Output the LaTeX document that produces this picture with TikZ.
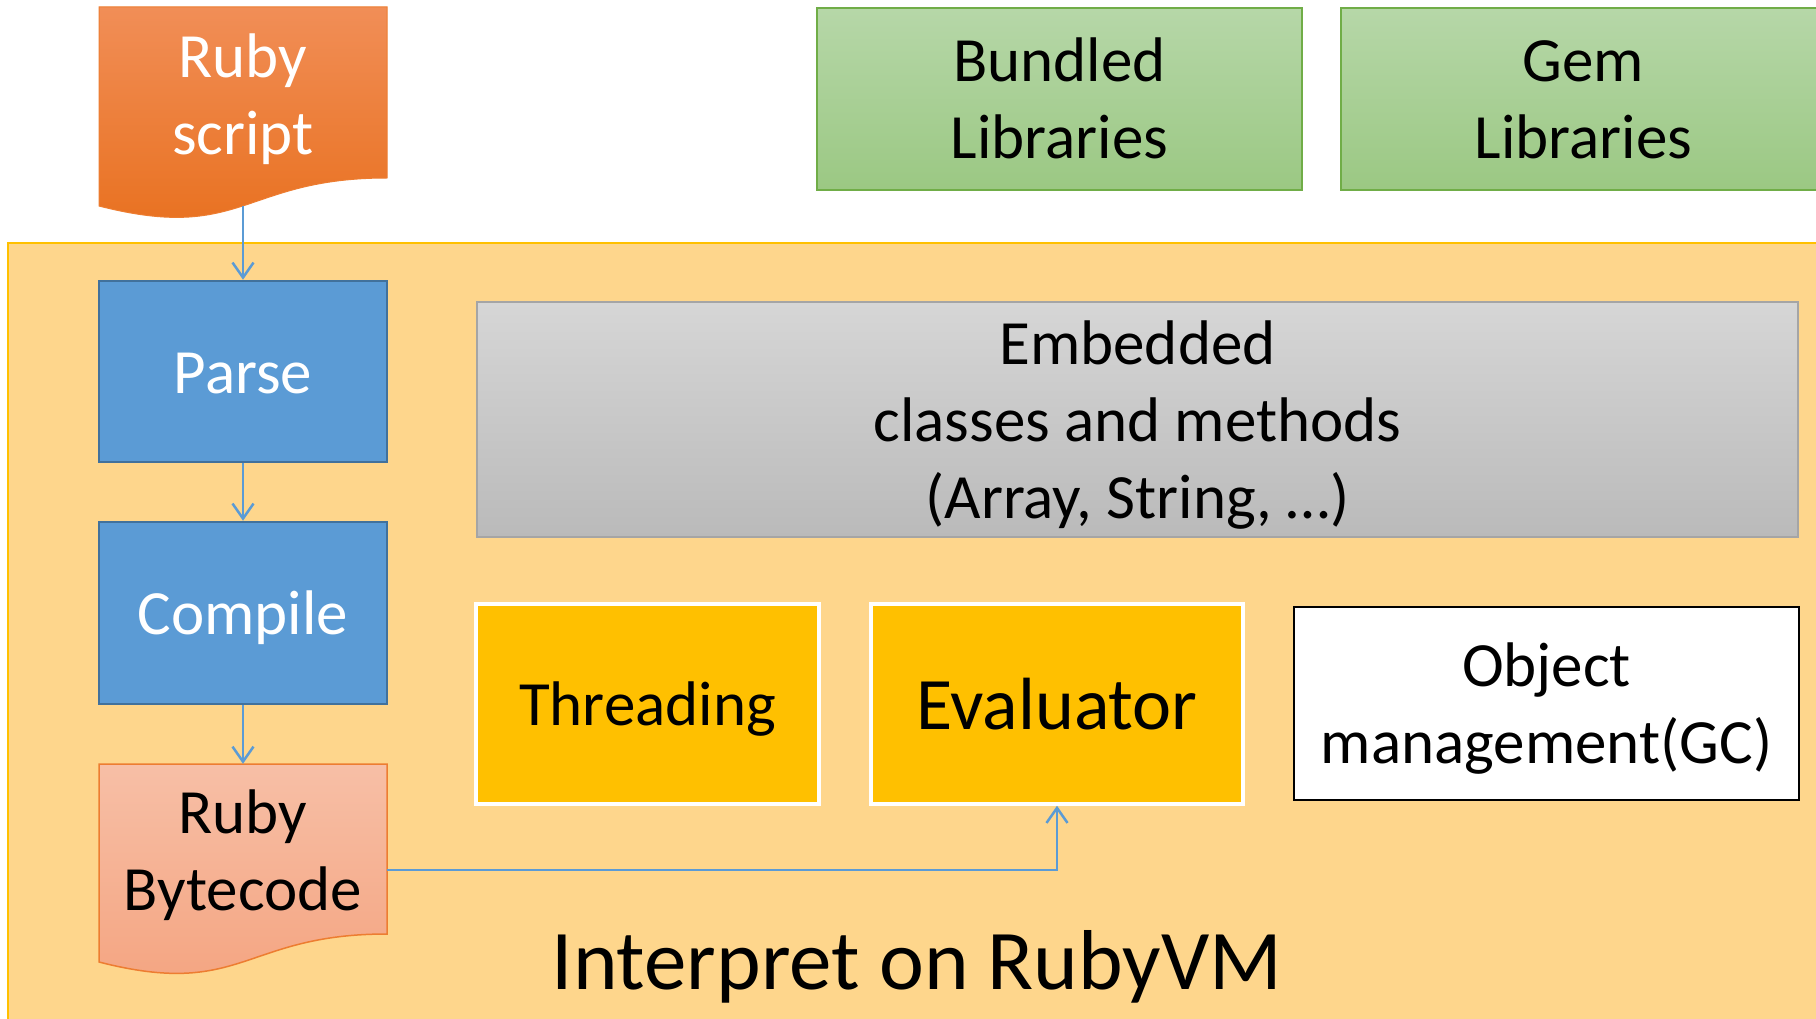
\documentclass[tikz,border=0pt]{standalone}
\usepackage{fontspec}
\setmainfont{Carlito}
\usetikzlibrary{arrows.meta}

% palette
\definecolor{vmfill}{HTML}{FED68C}
\definecolor{vmedge}{HTML}{FFC000}
\definecolor{stepblue}{HTML}{5B9BD5}
\definecolor{stepedge}{HTML}{41719C}
\definecolor{linkblue}{HTML}{5B9BD5}
\definecolor{scripttop}{HTML}{F18E57}
\definecolor{scriptbot}{HTML}{E86F1C}
\definecolor{scriptedge}{HTML}{ED7D31}
\definecolor{codetop}{HTML}{F7BFA6}
\definecolor{codebot}{HTML}{F4A37F}
\definecolor{libtop}{HTML}{B6D7A8}
\definecolor{libbot}{HTML}{9BC883}
\definecolor{libedge}{HTML}{70AD47}
\definecolor{coretop}{HTML}{D6D6D6}
\definecolor{corebot}{HTML}{BABABA}
\definecolor{coreedge}{HTML}{A5A5A5}
\definecolor{gold}{HTML}{FFC000}

% text sizes; each line carries a strut so that line boxes are uniform
\newcommand{\bigtext}{\fontsize{63}{77}\selectfont}
\newcommand{\evaltext}{\fontsize{74}{90}\selectfont}
\newcommand{\boxstrut}{\rule[-17pt]{0pt}{77pt}}
\newcommand{\evalstrut}{\rule[-20.4pt]{0pt}{90.8pt}}

\tikzset{
  box/.style={rectangle, inner sep=0pt, align=center, font=\bigtext},
  stepbox/.style={box, fill=stepblue, draw=stepedge, line width=2.5pt, text=white},
  libbox/.style={box, top color=libtop, bottom color=libbot, draw=libedge, line width=1.5pt},
  corebox/.style={box, top color=coretop, bottom color=corebot, draw=coreedge, line width=2pt},
  unitbox/.style={box, fill=gold, draw=white, line width=3.5pt},
  plainbox/.style={box, fill=white, draw=black, line width=2.5pt},
  label/.style={inner sep=0pt, align=center, font=\bigtext},
  flow/.style={draw=linkblue, line width=2.5pt,
    -{Straight Barb[length=15pt,width=21pt]}},
}

\begin{document}
\begin{tikzpicture}[x=1pt, y=-1pt]
  \clip (0,0) rectangle (1816,1019);
  \fill[white] (0,0) rectangle (1816,1019);

  % RubyVM area
  \draw[fill=vmfill, draw=vmedge, line width=1.5pt] (8,243) rectangle (1840,1040);

  % source document
  \path[top color=scripttop, bottom color=scriptbot, draw=scriptedge, line width=1pt]
    (99,7) -- (387,7) -- (387,178) .. controls (243,178) and (243,243) .. (99,206) -- cycle;
  \node (script) [box, minimum width=288pt, minimum height=213pt] at (243,113.5) {};
  \node (scripttext) [label, text=white] at (243,94.5) {\boxstrut Ruby\\\boxstrut script};
  \coordinate (scriptwave) at (243,206);

  % compilation steps
  \node (parse) [stepbox, minimum width=288pt, minimum height=181pt] at (243,371.5) {\boxstrut Parse};
  \node (compile) [stepbox, minimum width=288pt, minimum height=182pt] at (243,613) {\boxstrut Compile};

  % bytecode document
  \path[top color=codetop, bottom color=codebot, draw=scriptedge, line width=1.5pt]
    (99,764) -- (387,764) -- (387,934) .. controls (243,934) and (243,999) .. (99,962) -- cycle;
  \node (bytecode) [box, minimum width=288pt, minimum height=212pt] at (243,870) {};
  \node (bytecodetext) [label] at (243,850.5) {\boxstrut Ruby\\\boxstrut Bytecode};

  % libraries
  \node (bundled) [libbox, minimum width=485pt, minimum height=182pt] at (1059.5,99)
    {\boxstrut Bundled\\\boxstrut Libraries};
  \node (gem) [libbox, minimum width=485pt, minimum height=182pt] at (1583.5,99)
    {\boxstrut Gem\\\boxstrut Libraries};

  % VM components
  \node (embedded) [corebox, minimum width=1321pt, minimum height=235pt] at (1137.5,419.5)
    {\boxstrut Embedded\\\boxstrut classes and methods\\\boxstrut (Array, String, …)};
  \node (threading) [unitbox, minimum width=343pt, minimum height=200pt] at (647.5,704)
    {\boxstrut Threading};
  \node (evaluator) [unitbox, font=\evaltext, minimum width=372pt, minimum height=200pt] at (1057,704)
    {\evalstrut Evaluator};
  \node (objmgmt) [plainbox, minimum width=505pt, minimum height=193pt] at (1546.5,703.5)
    {\boxstrut Object\\\boxstrut management(GC)};

  \node (vmtitle) [inner sep=0pt, anchor=base, font=\fontsize{85}{100}\selectfont] at (917,989)
    {Interpret on RubyVM};

  % flow
  \draw[flow] (scriptwave) -- (parse.north);
  \draw[flow] (parse.south) -- (compile.north);
  \draw[flow] (compile.south) -- (bytecode.north);
  \draw[flow] (bytecode.east) -| (evaluator.south);
\end{tikzpicture}
\end{document}
